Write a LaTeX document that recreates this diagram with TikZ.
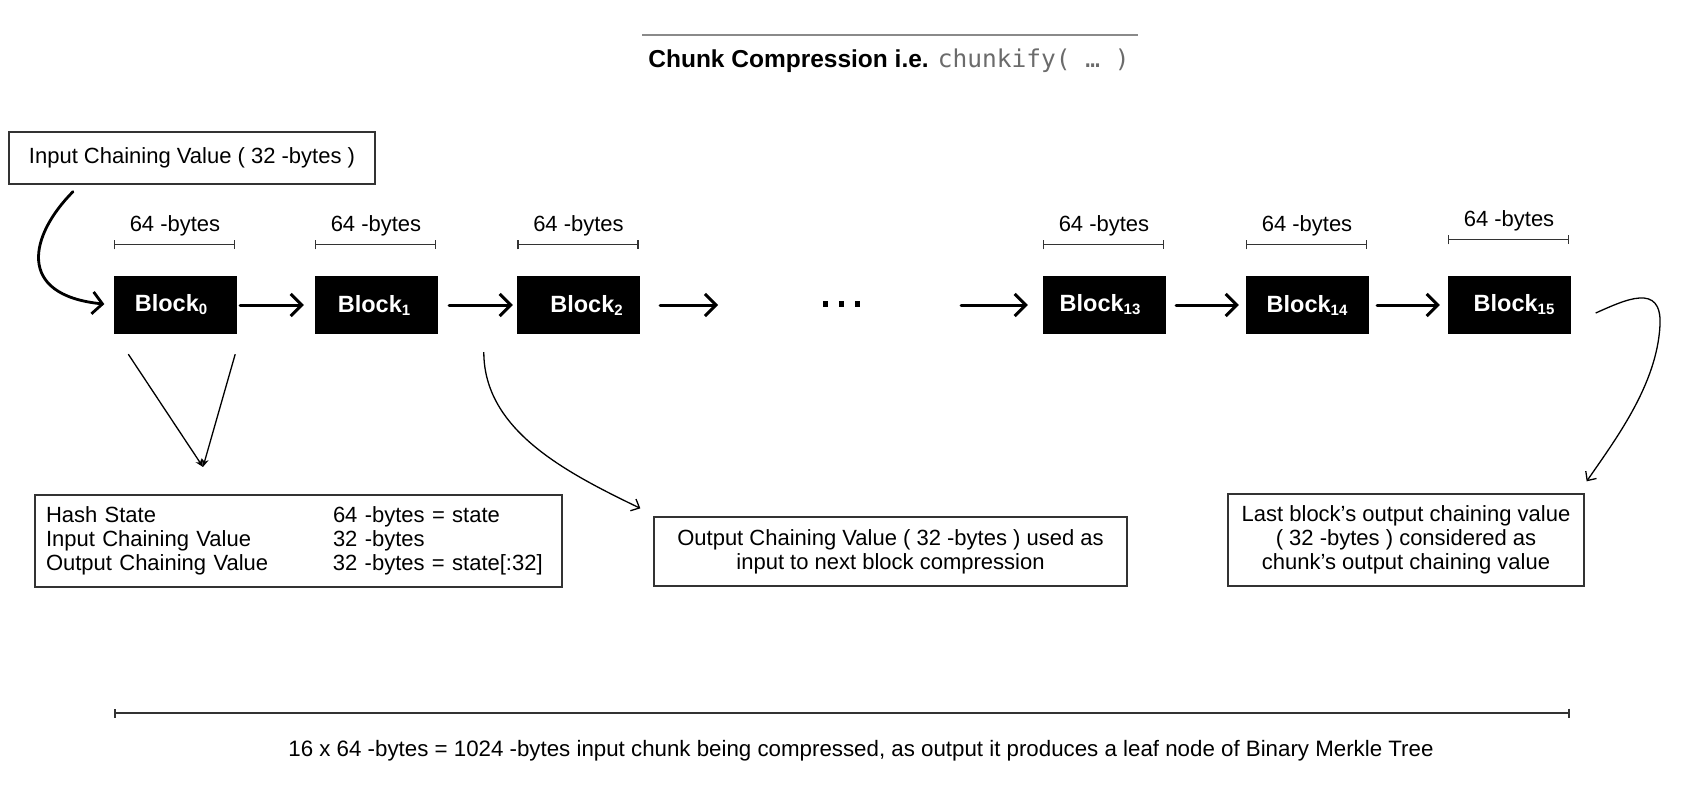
\documentclass[tikz,border=0pt]{standalone}
\usepackage{fontspec}
\setmainfont{Liberation Sans}
\newfontfamily\codefont{DejaVu Sans Mono}
\usetikzlibrary{arrows.meta}
\definecolor{edgegray}{HTML}{333333}
\definecolor{codegray}{HTML}{6B6B6B}
\definecolor{rulegray}{HTML}{8A8A8A}
\newcommand\blk[1]{Block\raisebox{-3pt}{\fontsize{15}{15}\selectfont #1}}
\begin{document}
\begin{tikzpicture}[x=1pt,y=-1pt,
  txt/.style={font=\fontsize{22}{24}\selectfont, inner sep=0pt},
  box/.style={draw=edgegray, line width=1.3pt, fill=white, font=\fontsize{22}{24}\selectfont, align=center, inner sep=0pt},
  blockbox/.style={fill=black, text=white, minimum width=123pt, minimum height=58pt, inner sep=0pt, font=\fontsize{23.5}{26}\selectfont\bfseries},
  flow/.style={line width=3pt, line cap=round, -{Straight Barb[length=11pt,width=22pt]}},
  sketchy/.style={line width=2.8pt, line cap=round, -{Straight Barb[length=10pt,width=22pt]}},
  thinarrow/.style={line width=1.3pt, -{Straight Barb[length=7pt,width=13pt]}},
  dimline/.style={draw=edgegray, line width=1.3pt, {Bar[width=9pt]}-{Bar[width=9pt]}}
]
\useasboundingbox (0,0) rectangle (1684,803);
\fill[white] (0,0) rectangle (1684,803);

% title
\draw[rulegray, line width=1.3pt] (642,35) -- (1138,35);
\node[txt, font=\fontsize{24.5}{28}\selectfont] (title) at (889,61) {\textbf{Chunk Compression i.e.} {\codefont\color{codegray}chunkify( … )}};

% input chaining value
\node[box, minimum width=366pt, minimum height=52pt] (inp) at (192,158) {\raisebox{1.5pt}{Input Chaining Value ( 32 -bytes )}};

% blocks
\node[blockbox] (b0) at (175,305) {\raisebox{-2pt}{\blk{0}}\hspace*{8pt}};
\node[blockbox] (b1) at (376,305) {\raisebox{-2pt}{\blk{1}}\hspace*{4pt}};
\node[blockbox] (b2) at (578.5,305) {\hspace*{16pt}\raisebox{-2pt}{\blk{2}}};
\node[blockbox] (b13) at (1104,305) {\raisebox{-2pt}{\blk{13}}\hspace*{8pt}};
\node[blockbox] (b14) at (1307,305) {\raisebox{-2pt}{\blk{14}}};
\node[blockbox] (b15) at (1509,305) {\hspace*{10pt}\raisebox{-2pt}{\blk{15}}};

% 64-bytes markers
\foreach \b/\d in {b0/31,b1/31,b2/31,b13/31,b14/31,b15/36}{
  \draw[dimline] ([shift={(0.5,-\d)}]\b.north west) -- ([shift={(-1.5,-\d)}]\b.north east);
  \node[txt] (lbl\b) at ([shift={(0,{-\d-19})}]\b.north) {64 -bytes};
}

% chain arrows
\coordinate (d1) at (718,305);
\coordinate (d2) at (961,305);
\draw[flow, shorten <=3.5pt, shorten >=10.5pt] (b0) -- (b1);
\draw[flow, shorten <=11.5pt, shorten >=4pt] (b1) -- (b2);
\draw[flow, shorten <=20pt] (b2) -- (d1);
\draw[flow, shorten >=14.5pt] (d2) -- (b13);
\draw[flow, shorten <=10.5pt, shorten >=6.5pt] (b13) -- (b14);
\draw[flow, shorten <=8.5pt, shorten >=7.5pt] (b14) -- (b15);

% ellipsis dots
\fill (822.5,301) rectangle ++(5.5,5.5);
\fill (838.5,301) rectangle ++(5.5,5.5);
\fill (854.5,301) rectangle ++(5.5,5.5);

% input curve
\draw[sketchy, shorten >=9pt] ([shift={(-119,7)}]inp.south) .. controls (30,235) and (15,295) .. (b0.west);

% hash state convergence
\coordinate (conv) at (203,467);
\draw[line width=1.3pt, -{Stealth[length=8pt,width=7pt]}] ([shift={(15,20)}]b0.south west) -- (conv);
\draw[line width=1.3pt, -{Stealth[length=8pt,width=7pt]}] ([shift={(-1.5,20)}]b0.south east) -- (conv);

% boxes
\node[box, minimum width=527pt, minimum height=92pt, text width=505pt, align=left, inner xsep=11pt, font=\fontsize{22}{24}\selectfont] (hs) at (298.5,541)
  {\makebox[287pt][l]{Hash State}64 -bytes = state\\
   \makebox[287pt][l]{Input Chaining Value}32 -bytes\\
   \makebox[287pt][l]{Output Chaining Value}32 -bytes = state[:32]};
\node[box, minimum width=473pt, minimum height=69pt] (ocv) at (890.5,551.5)
  {Output Chaining Value ( 32 -bytes ) used as\\input to next block compression};
\node[box, minimum width=356pt, minimum height=92pt] (last) at (1406,540)
  {Last block’s output chaining value\\( 32 -bytes ) considered as\\chunk’s output chaining value};

% curves to boxes
\draw[thinarrow] ([shift={(-33,18)}]b2.south west) .. controls (484,430) and (565,472) .. ([shift={(-13,-8)}]ocv.north west);
\draw[thinarrow] ([shift={(25,8)}]b15.east) .. controls (1625,300) and (1662,282) .. (1660,325) .. controls (1657,385) and (1615,440) .. ([shift={(2,-12)}]last.north east);

% bottom dimension
\draw[dimline, line width=1.8pt] (114,713) -- (1570,713);
\node[txt, font=\fontsize{22.3}{24}\selectfont] (bot) at (861,751) {16 x 64 -bytes = 1024 -bytes input chunk being compressed, as output it produces a leaf node of Binary Merkle Tree};
\end{tikzpicture}
\end{document}
